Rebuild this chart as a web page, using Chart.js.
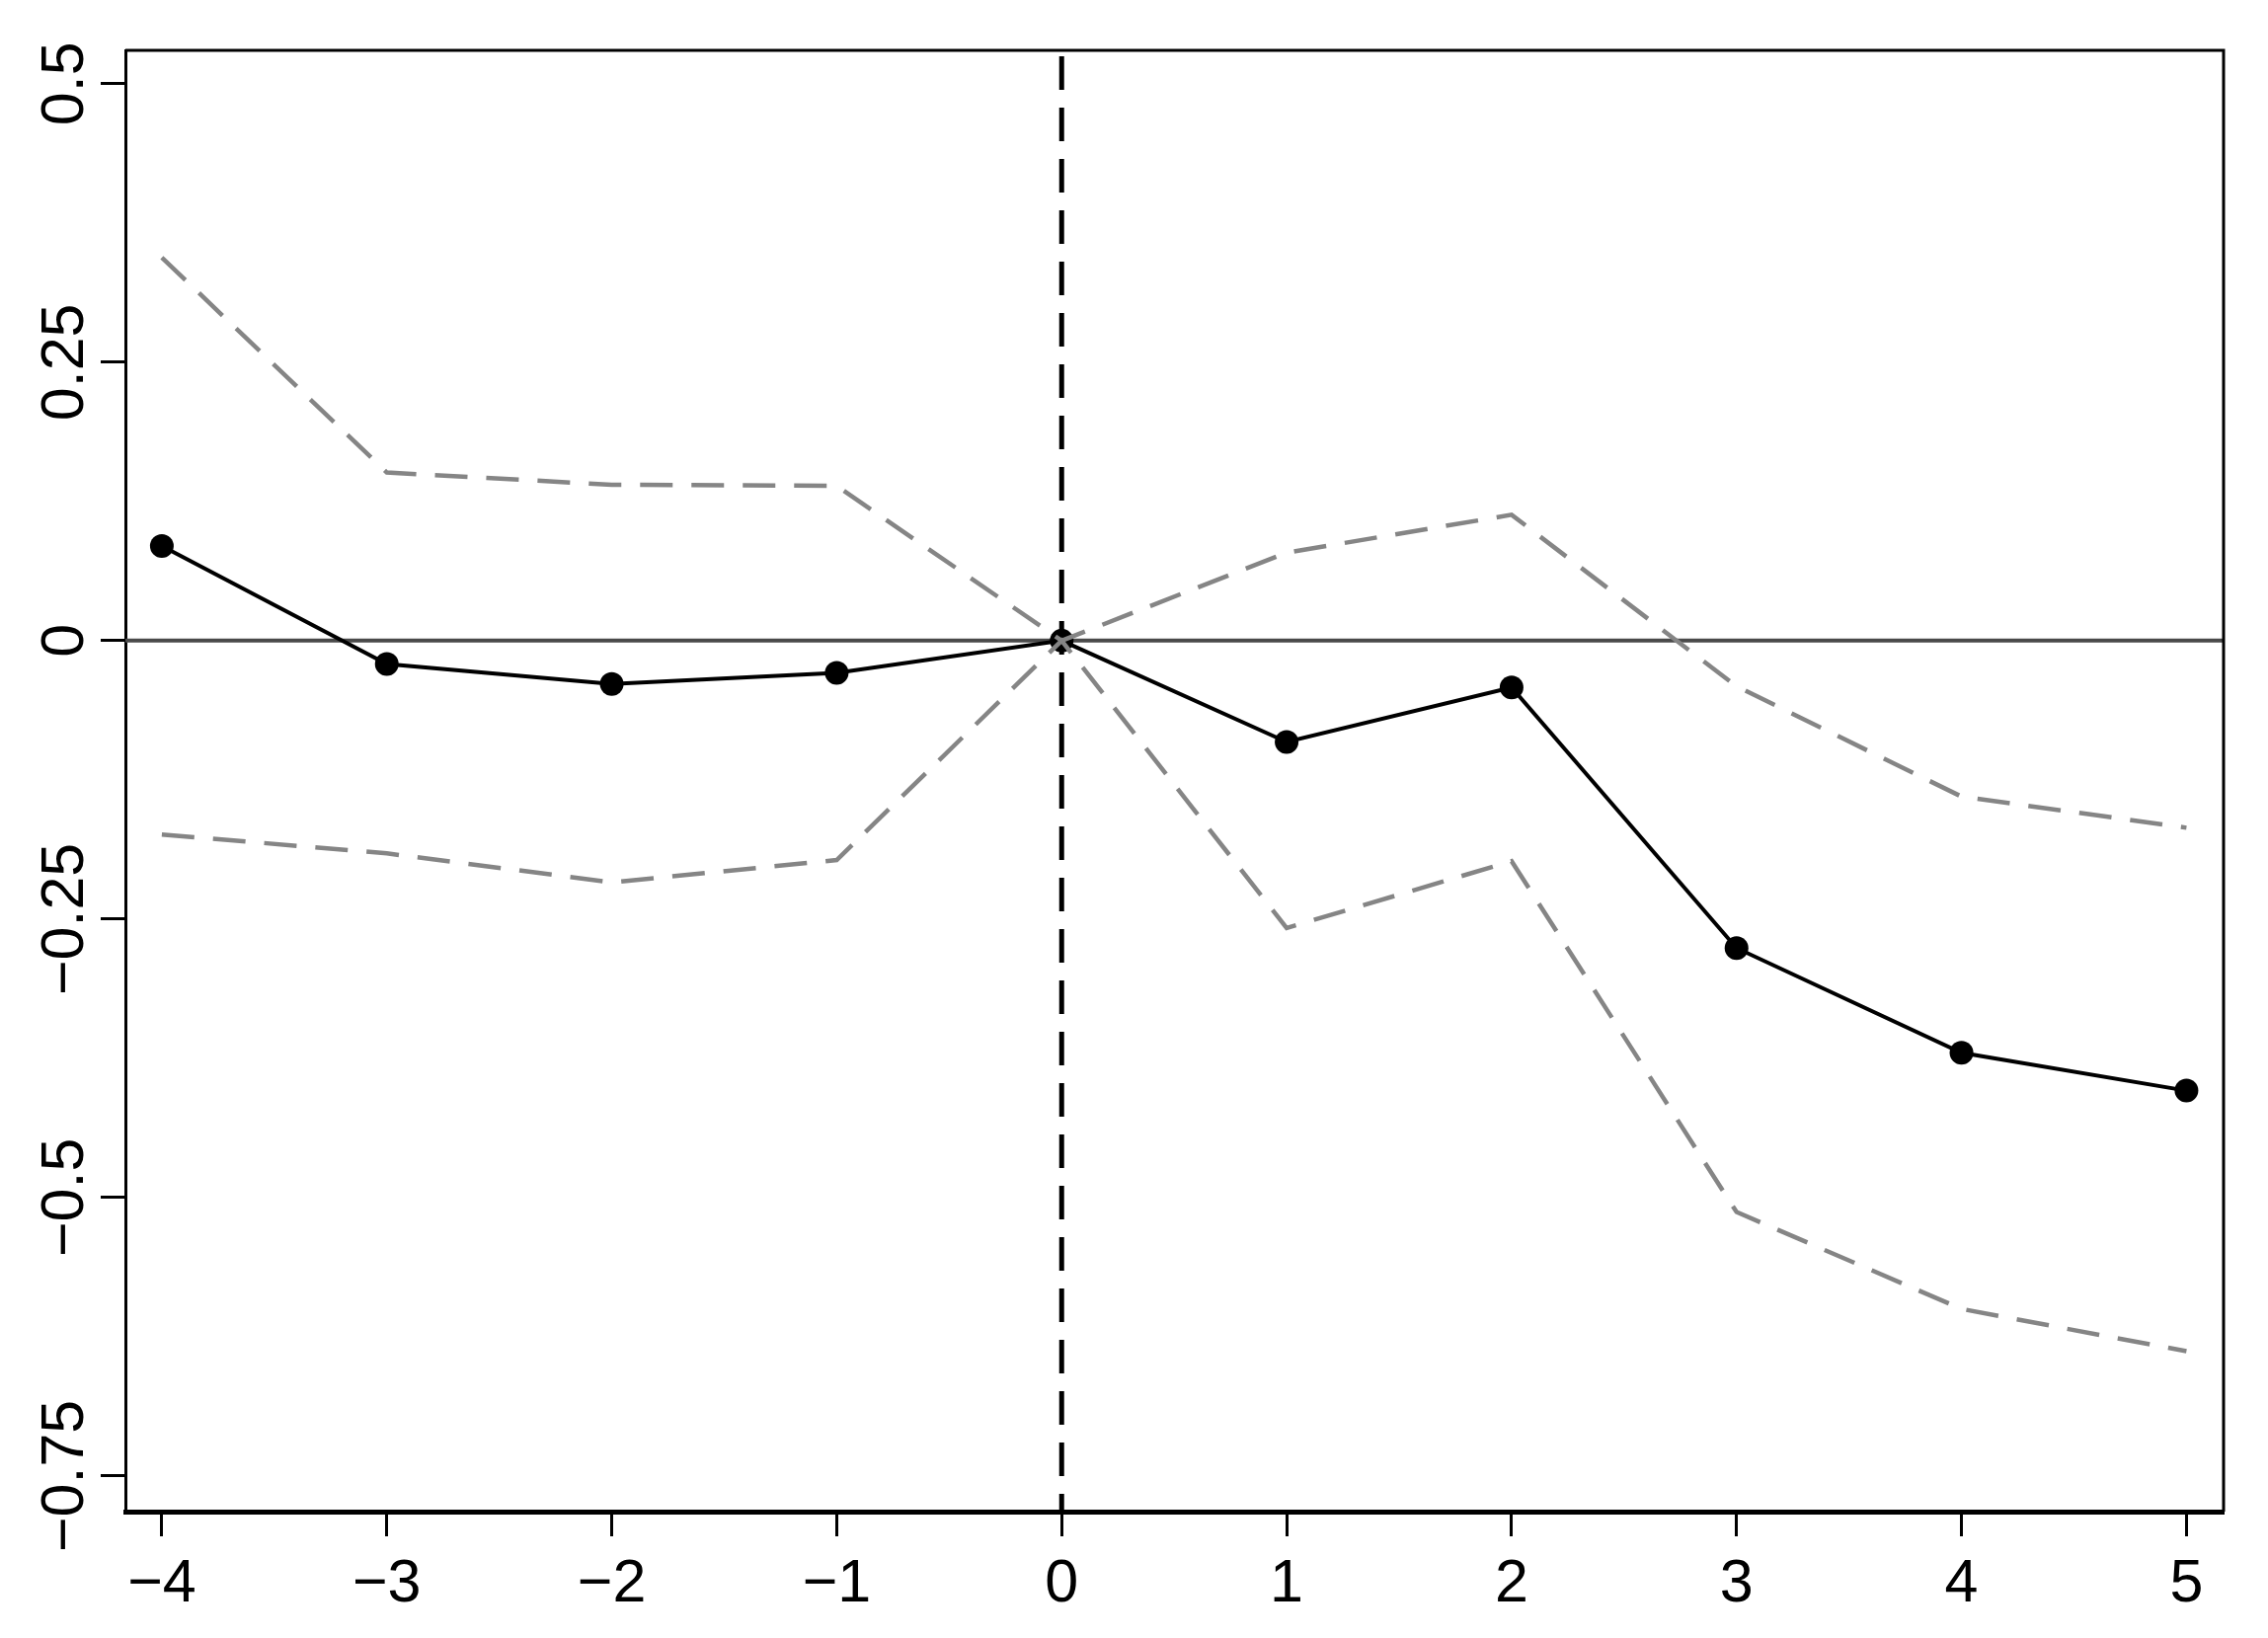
<!DOCTYPE html>
<html>
<head>
<meta charset="utf-8">
<script src="https://cdn.jsdelivr.net/npm/chart.js@4"></script>
<style>
  html, body { margin: 0; padding: 0; background: #fff; }
  canvas { display: block; }
</style>
</head>
<body>
<canvas id="chart" width="2297" height="1659"></canvas>
<script>
// event-study plot: point estimates with dashed confidence bands
const periods = [-4, -3, -2, -1, 0, 1, 2, 3, 4, 5];
const estimate = [0.085, -0.021, -0.039, -0.029, 0, -0.091, -0.042, -0.276, -0.370, -0.404];
const upperCI = [0.344, 0.151, 0.140, 0.139, 0, 0.079, 0.113, -0.041, -0.140, -0.168];
const lowerCI = [-0.174, -0.191, -0.217, -0.197, 0, -0.258, -0.198, -0.513, -0.600, -0.638];
const yTicks = [0.5, 0.25, 0, -0.25, -0.5, -0.75];

const FONT = '"Liberation Sans", Arial, sans-serif';
const fmt = (v) => (v < 0 ? "\u2212" + String(Math.abs(v)) : String(v));
const pts = (ys) => periods.map((x, i) => ({ x, y: ys[i] }));

// zero line, event line, box and rotated y labels
const refLines = {
  id: "refLines",
  beforeDatasetsDraw(chart) {
    const { ctx, chartArea: a, scales } = chart;
    const y0 = scales.y.getPixelForValue(0);
    const x0 = scales.x.getPixelForValue(0);
    ctx.save();
    ctx.strokeStyle = "#4a4a4a";
    ctx.lineWidth = 4;
    ctx.beginPath();
    ctx.moveTo(a.left, y0);
    ctx.lineTo(a.right, y0);
    ctx.stroke();
    ctx.strokeStyle = "#000";
    ctx.lineWidth = 5;
    ctx.setLineDash([34, 18]);
    ctx.lineDashOffset = -6;
    ctx.beginPath();
    ctx.moveTo(x0, a.top);
    ctx.lineTo(x0, a.bottom);
    ctx.stroke();
    ctx.restore();
  },
  afterDraw(chart) {
    const { ctx, chartArea: a, scales } = chart;
    ctx.save();
    ctx.strokeStyle = "#000";
    ctx.lineWidth = 3;
    ctx.beginPath();
    ctx.moveTo(a.left, a.top);
    ctx.lineTo(a.right, a.top);
    ctx.lineTo(a.right, a.bottom);
    ctx.stroke();
    ctx.fillStyle = "#000";
    ctx.font = "61px " + FONT;
    ctx.textAlign = "center";
    ctx.textBaseline = "alphabetic";
    yTicks.forEach((v) => {
      ctx.save();
      ctx.translate(84, scales.y.getPixelForValue(v));
      ctx.rotate(-Math.PI / 2);
      ctx.fillText(fmt(v), 0, 0);
      ctx.restore();
    });
    ctx.restore();
  },
};

new Chart(document.getElementById("chart"), {
  type: "line",
  data: {
    datasets: [
      {
        label: "Estimate",
        data: pts(estimate),
        borderColor: "#000",
        backgroundColor: "#000",
        borderWidth: 4,
        pointRadius: 12,
        pointBorderWidth: 0,
        tension: 0,
        order: 2,
      },
      {
        label: "Upper",
        data: pts(upperCI),
        borderColor: "#858585",
        borderWidth: 4.5,
        borderDash: [33, 19],
        pointRadius: 0,
        tension: 0,
        order: 1,
      },
      {
        label: "Lower",
        data: pts(lowerCI),
        borderColor: "#858585",
        borderWidth: 4.5,
        borderDash: [33, 19],
        pointRadius: 0,
        tension: 0,
        order: 1,
      },
    ],
  },
  options: {
    responsive: false,
    animation: false,
    devicePixelRatio: 1,
    layout: { padding: { top: 51, right: 45, left: 0, bottom: 0 } },
    plugins: { legend: { display: false }, tooltip: { enabled: false } },
    scales: {
      x: {
        type: "linear",
        min: -4.162,
        max: 5.165,
        afterBuildTicks: (s) => { s.ticks = periods.map((v) => ({ value: v })); },
        afterFit: (s) => { s.height = 128; },
        grid: { drawOnChartArea: false, drawTicks: true, tickLength: 25, tickColor: "#000", tickWidth: 3 },
        border: { display: true, color: "#000", width: 5 },
        ticks: {
          color: "#000",
          font: { family: FONT, size: 61 },
          padding: 13,
          maxRotation: 0,
          callback: (v) => fmt(v),
        },
      },
      y: {
        type: "linear",
        min: -0.782,
        max: 0.53,
        afterBuildTicks: (s) => { s.ticks = yTicks.map((v) => ({ value: v })); },
        afterFit: (s) => { s.width = 127; },
        grid: { drawOnChartArea: false, drawTicks: true, tickLength: 25, tickColor: "#000", tickWidth: 3 },
        border: { display: true, color: "#000", width: 3 },
        ticks: { display: false },
      },
    },
  },
  plugins: [refLines],
});
</script>
</body>
</html>
